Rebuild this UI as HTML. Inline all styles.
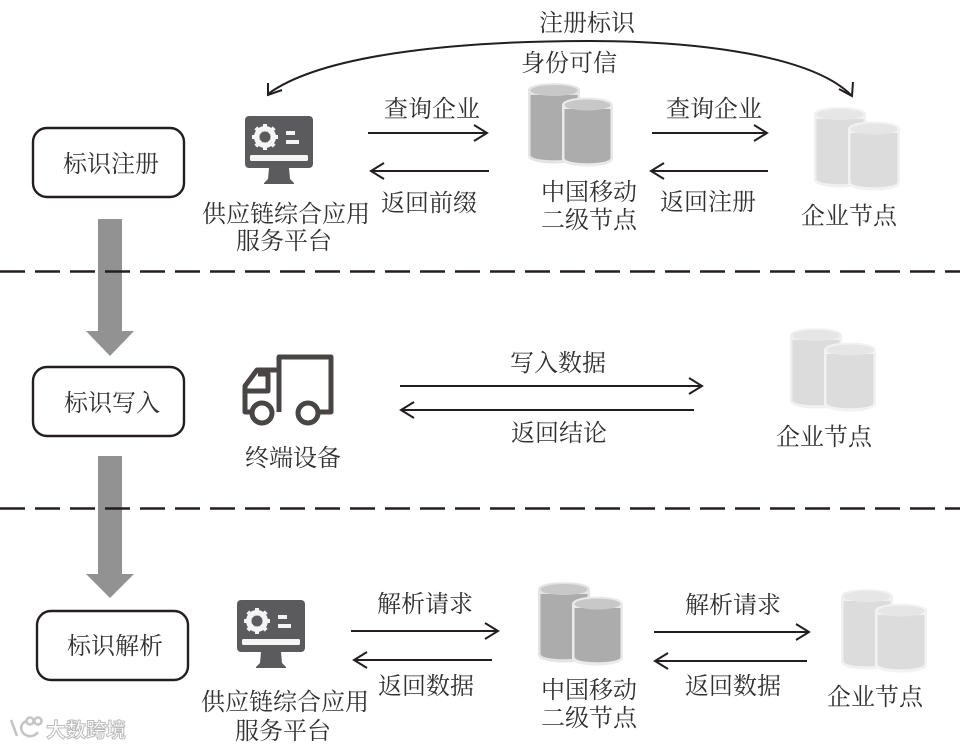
<!DOCTYPE html>
<html lang="zh">
<head>
<meta charset="utf-8">
<title>标识流程</title>
<style>
html,body{margin:0;padding:0;background:#fff;width:960px;height:747px;overflow:hidden}
svg{display:block}
text{font-family:"Liberation Serif","Noto Serif CJK SC",serif;font-size:24px;fill:#333031;text-anchor:middle}
.l{fill:none;stroke:#231f20;stroke-width:2}
.box{fill:#fff;stroke:#231f20;stroke-width:2.4}
.dash{stroke:#231f20;stroke-width:2.6;stroke-dasharray:25 10}
</style>
</head>
<body>
<svg width="960" height="747" viewBox="0 0 960 747" xmlns="http://www.w3.org/2000/svg">
<defs>
<g id="dbd">
<path d="M0,7C0,-2 52,-2 52,7V73C52,83 0,83 0,73Z" fill="#e4e4e4"/>
<path d="M2.500,12V72C2.500,79 49.500,79 49.500,72V12Z" fill="#adacad"/>
<ellipse cx="26" cy="7.500" rx="23.500" ry="5.500" fill="#c9c8c9"/>
<path d="M34,22C34,12 85,12 85,22V76C84,86 34,86 34,76Z" fill="#eaeaea"/>
<path d="M36.500,26V75C36.500,82 82.500,82 82.500,75V26Z" fill="#adacad"/>
<ellipse cx="59.500" cy="22" rx="23" ry="5.500" fill="#c9c8c9"/>
</g>
<g id="dbl">
<path d="M0,7C0,-2 52,-2 52,7V73C52,83 0,83 0,73Z" fill="#f0f0f0"/>
<path d="M2.500,12V72C2.500,79 49.500,79 49.500,72V12Z" fill="#dcdcdc"/>
<ellipse cx="26" cy="7.500" rx="23.500" ry="5.500" fill="#e6e6e6"/>
<path d="M34,22C34,12 86,12 86,22V76C86,86 34,86 34,76Z" fill="#f2f2f2"/>
<path d="M36.500,26V75C36.500,82 83.500,82 83.500,75V26Z" fill="#dcdcdc"/>
<ellipse cx="60" cy="22" rx="23.500" ry="5.500" fill="#e6e6e6"/>
</g>
<g id="mon">
<rect x="0" y="0" width="68" height="52" rx="4" fill="#5b5b5e"/>
<path d="M24,52H44L45,63L49,67V68H19V67L23,63Z" fill="#5b5b5e"/>
<rect x="5" y="39" width="58" height="6" rx="1.500" fill="#f4f4f4"/>
<rect x="41" y="15" width="9" height="4" fill="#f4f4f4"/>
<rect x="41" y="24" width="13" height="4" fill="#f4f4f4"/>
<circle cx="20" cy="21" r="8.500" fill="none" stroke="#f4f4f4" stroke-width="5"/>
<path d="M20,8V34M7,21H33M10.800,11.800L29.200,30.200M29.200,11.800L10.800,30.200" stroke="#f4f4f4" stroke-width="4"/>
<circle cx="20" cy="21" r="5.500" fill="#5b5b5e"/>
</g>
</defs>

<!-- curved arrow -->
<path class="l" d="M268,94C325,52 470,41 590,41C700,41 812,56 851,95"/>
<path class="l" d="M268,83L268,95L282,90M853,82L852,96L839,89"/>
<text x="587" y="31">注册标识</text>
<text x="569" y="71">身份可信</text>

<!-- row 1 -->
<rect class="box" x="33" y="128" width="151" height="69" rx="14"/>
<text x="111" y="172">标识注册</text>
<use href="#mon" x="245" y="116"/>
<text x="286" y="222">供应链综合应用</text>
<text x="284" y="249">服务平台</text>
<path class="l" d="M368,133H487M474,125L487,133L474,141"/>
<path class="l" d="M489,171H371M384,163L371,171L384,179"/>
<text x="432" y="117">查询企业</text>
<text x="429" y="211">返回前缀</text>
<use href="#dbd" x="528" y="83"/>
<text x="589" y="200">中国移动</text>
<text x="589" y="228">二级节点</text>
<path class="l" d="M652,133H767M754,125L767,133L754,141"/>
<path class="l" d="M768,171H651M664,163L651,171L664,179"/>
<text x="714" y="117">查询企业</text>
<text x="708" y="210">返回注册</text>
<use href="#dbl" x="814" y="107"/>
<text x="849" y="224">企业节点</text>

<!-- big arrow 1 -->
<path d="M98,219H122V331H134L110,356L86,331H98Z" fill="#939293"/>

<line class="dash" x1="0" y1="271.500" x2="960" y2="271.500"/>

<!-- row 2 -->
<rect class="box" x="33" y="367" width="151" height="69" rx="14"/>
<text x="112" y="411">标识写入</text>
<g fill="none" stroke="#4a4545" stroke-width="5" stroke-linejoin="round">
<path d="M279,412V357H331V412H296"/>
<path d="M252,412H245V386L257,370H279"/>
<path d="M245,391H268V374H258"/>
<circle cx="262" cy="413" r="10" fill="#fff"/>
<circle cx="308" cy="413" r="10" fill="#fff"/>
</g>
<text x="293" y="466">终端设备</text>
<path class="l" d="M400,386H702M689,378L702,386L689,394"/>
<path class="l" d="M694,410H401M414,402L401,410L414,418"/>
<text x="558" y="371">写入数据</text>
<text x="559" y="441">返回结论</text>
<use href="#dbl" x="790" y="328"/>
<text x="824" y="445">企业节点</text>

<!-- big arrow 2 -->
<path d="M98,456H122V574H134L110,598L86,574H98Z" fill="#939293"/>

<line class="dash" x1="0" y1="508.500" x2="960" y2="508.500"/>

<!-- row 3 -->
<rect class="box" x="37" y="611" width="151" height="69" rx="14"/>
<text x="115" y="654">标识解析</text>
<use href="#mon" x="237" y="600"/>
<text x="285" y="710">供应链综合应用</text>
<text x="283" y="739">服务平台</text>
<path class="l" d="M351,631H498M485,623L498,631L485,639"/>
<path class="l" d="M492,660H354M367,652L354,660L367,668"/>
<text x="425" y="612">解析请求</text>
<text x="426" y="694">返回数据</text>
<use href="#dbd" x="538" y="582"/>
<text x="589" y="698">中国移动</text>
<text x="589" y="726">二级节点</text>
<path class="l" d="M654,632H809M796,624L809,632L796,640"/>
<path class="l" d="M807,661H655M668,653L655,661L668,669"/>
<text x="733" y="613">解析请求</text>
<text x="733" y="694">返回数据</text>
<use href="#dbl" x="841" y="589"/>
<text x="875" y="705">企业节点</text>

<!-- watermark -->
<g fill="none" stroke="#c4c4c4" stroke-width="2.500">
<path d="M11,720L17,736M27,721C19,723 19,733 28,736C32,737 36,735 38,732"/>
<circle cx="30" cy="721" r="3.500"/>
<circle cx="38" cy="721" r="3.500"/>
</g>
<text x="86" y="737" style="font-family:'Liberation Sans','Noto Sans CJK SC',sans-serif;font-size:20px;font-weight:700;fill:#fff;stroke:#bcbcbc;stroke-width:1">大数跨境</text>
</svg>
</body>
</html>
